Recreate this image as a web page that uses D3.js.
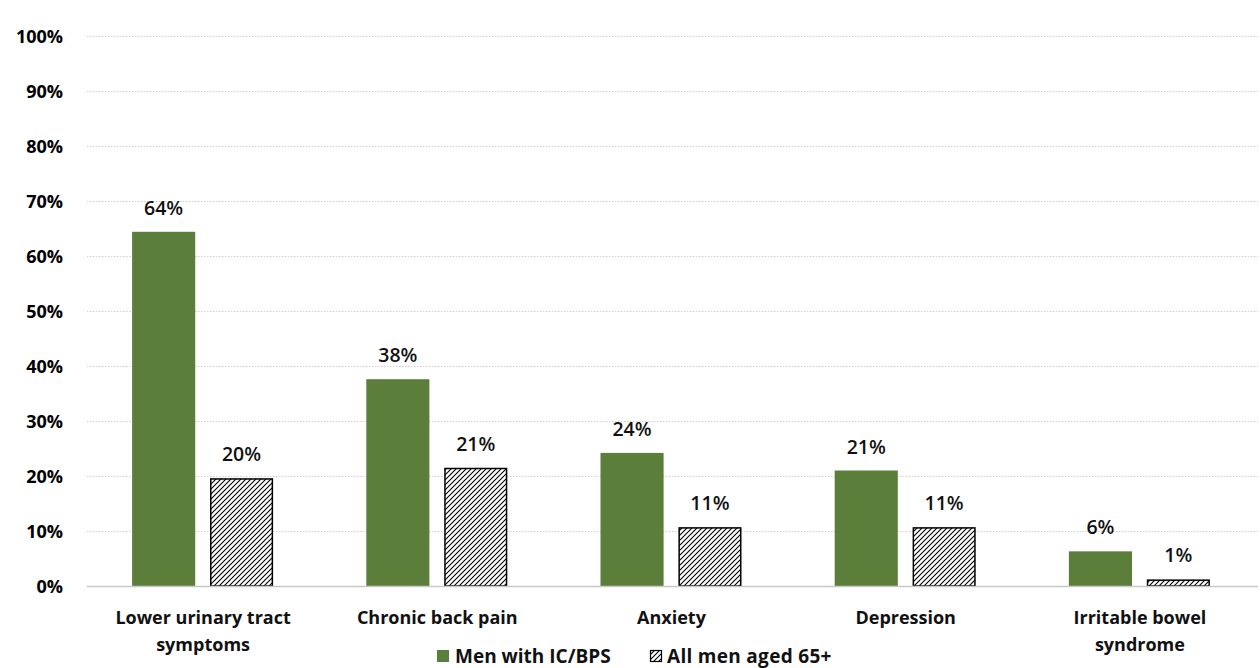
<!DOCTYPE html>
<html><head><meta charset="utf-8">
<script src="https://cdn.jsdelivr.net/npm/d3@7"></script>
<style>body{margin:0;background:#fff;} svg{display:block;}</style>
</head><body>
<svg id="c" width="1260" height="668"></svg>
<script>
const categories = [["Lower urinary tract","symptoms"],["Chronic back pain"],["Anxiety"],["Depression"],["Irritable bowel","syndrome"]];
const seriesNames = ["Men with IC/BPS","All men aged 65+"];
const menICBPS = [64.4, 37.6, 24.2, 21.0, 6.3];
const allMen65 = [19.6, 21.5, 10.7, 10.7, 1.2];
const labelsICBPS = ["64%","38%","24%","21%","6%"];
const labelsAll = ["20%","21%","11%","11%","1%"];
const yTicks = [0,10,20,30,40,50,60,70,80,90,100];

(function(){
const svg = d3.select("#c");
const font = "'Open Sans', 'Noto Sans', sans-serif";
const green = "#5b7f3a";
const pLeft = 87, pRight = 1258, pTop = 36, pBottom = 586;

const defs = svg.append("defs");
const pat = defs.append("pattern").attr("id","hatch").attr("patternUnits","userSpaceOnUse")
  .attr("width",5).attr("height",5);
pat.append("rect").attr("width",5).attr("height",5).attr("fill","#fff");
pat.append("path").attr("d","M-1,1 l2,-2 M0,5 l5,-5 M4,6 l2,-2").attr("stroke","#000").attr("stroke-width",1.1);

const y = d3.scaleLinear().domain([0,100]).range([pBottom, pTop]);
const x0 = d3.scaleBand().domain(d3.range(categories.length)).range([pLeft, pRight]).paddingInner(0).paddingOuter(0);
const groupW = 141;
const x1 = d3.scaleBand().domain([0,1]).range([0, groupW]).paddingInner(0.19);
const groupOffset = (x0.bandwidth() - groupW)/2 - 1.5;

// gridlines
const grid = svg.append("g").attr("transform",`translate(${pLeft},0)`)
  .call(d3.axisLeft(y).tickValues(yTicks.slice(1)).tickSize(-(pRight-pLeft)).tickFormat(""));
grid.select(".domain").remove();
grid.selectAll("line").attr("stroke","#d0d0d0").attr("stroke-dasharray","1.5,1.5").attr("stroke-width",1);

// y labels
const yax = svg.append("g").attr("transform",`translate(63,0)`)
  .call(d3.axisLeft(y).tickValues(yTicks).tickSize(0).tickPadding(0).tickFormat(d=>d+"%"));
yax.select(".domain").remove();
yax.selectAll("text").attr("font-family",font).attr("font-size",18).attr("font-weight",700).attr("fill","#000").attr("dy","0.35em");

// bars
const data = categories.map((c,i)=>({i, vals:[menICBPS[i], allMen65[i]], labs:[labelsICBPS[i], labelsAll[i]]}));
const g = svg.append("g");
data.forEach(d=>{
  [0,1].forEach(s=>{
    const bx = x0(d.i) + groupOffset + x1(s);
    const by = y(d.vals[s]);
    g.append("rect").attr("x", s? bx+0.75: bx).attr("y", s? by+0.75: by)
      .attr("width", s? x1.bandwidth()-1.5 : x1.bandwidth())
      .attr("height", s? y(0)-by-0.75 : y(0)-by)
      .attr("fill", s? "url(#hatch)" : green)
      .attr("stroke", s? "#000":"none").attr("stroke-width",1.5);
    g.append("text").attr("x", bx + x1.bandwidth()/2).attr("y", by-17)
      .attr("text-anchor","middle").attr("font-family",font).attr("font-size",19.5).attr("font-weight",600)
      .attr("fill","#111").text(d.labs[s]);
  });
});

// baseline
svg.append("line").attr("x1",pLeft).attr("x2",pRight).attr("y1",y(0)+0.5).attr("y2",y(0)+0.5)
  .attr("stroke","#c8c8c8").attr("stroke-width",1.5);

// category labels
categories.forEach((c,i)=>{
  const cx = x0(i) + x0.bandwidth()/2 - 1;
  const t = svg.append("text").attr("text-anchor","middle").attr("font-family",font)
    .attr("font-size",18).attr("font-weight",700).attr("fill","#111");
  c.forEach((line,k)=>t.append("tspan").attr("x",cx).attr("y",624 + k*27).text(line));
});

// legend
const lg = svg.append("g");
lg.append("rect").attr("x",437).attr("y",650).attr("width",12).attr("height",12).attr("fill",green);
lg.append("text").attr("x",455).attr("y",663).attr("font-family",font).attr("font-size",19).attr("font-weight",700).attr("fill","#111").text(seriesNames[0]);
lg.append("rect").attr("x",650.5).attr("y",650.5).attr("width",11).attr("height",11).attr("fill","url(#hatch)").attr("stroke","#000").attr("stroke-width",1.2);
lg.append("text").attr("x",667).attr("y",663).attr("font-family",font).attr("font-size",19).attr("font-weight",700).attr("fill","#111").attr("letter-spacing","0.3").text(seriesNames[1]);
})();
</script>
</body></html>
